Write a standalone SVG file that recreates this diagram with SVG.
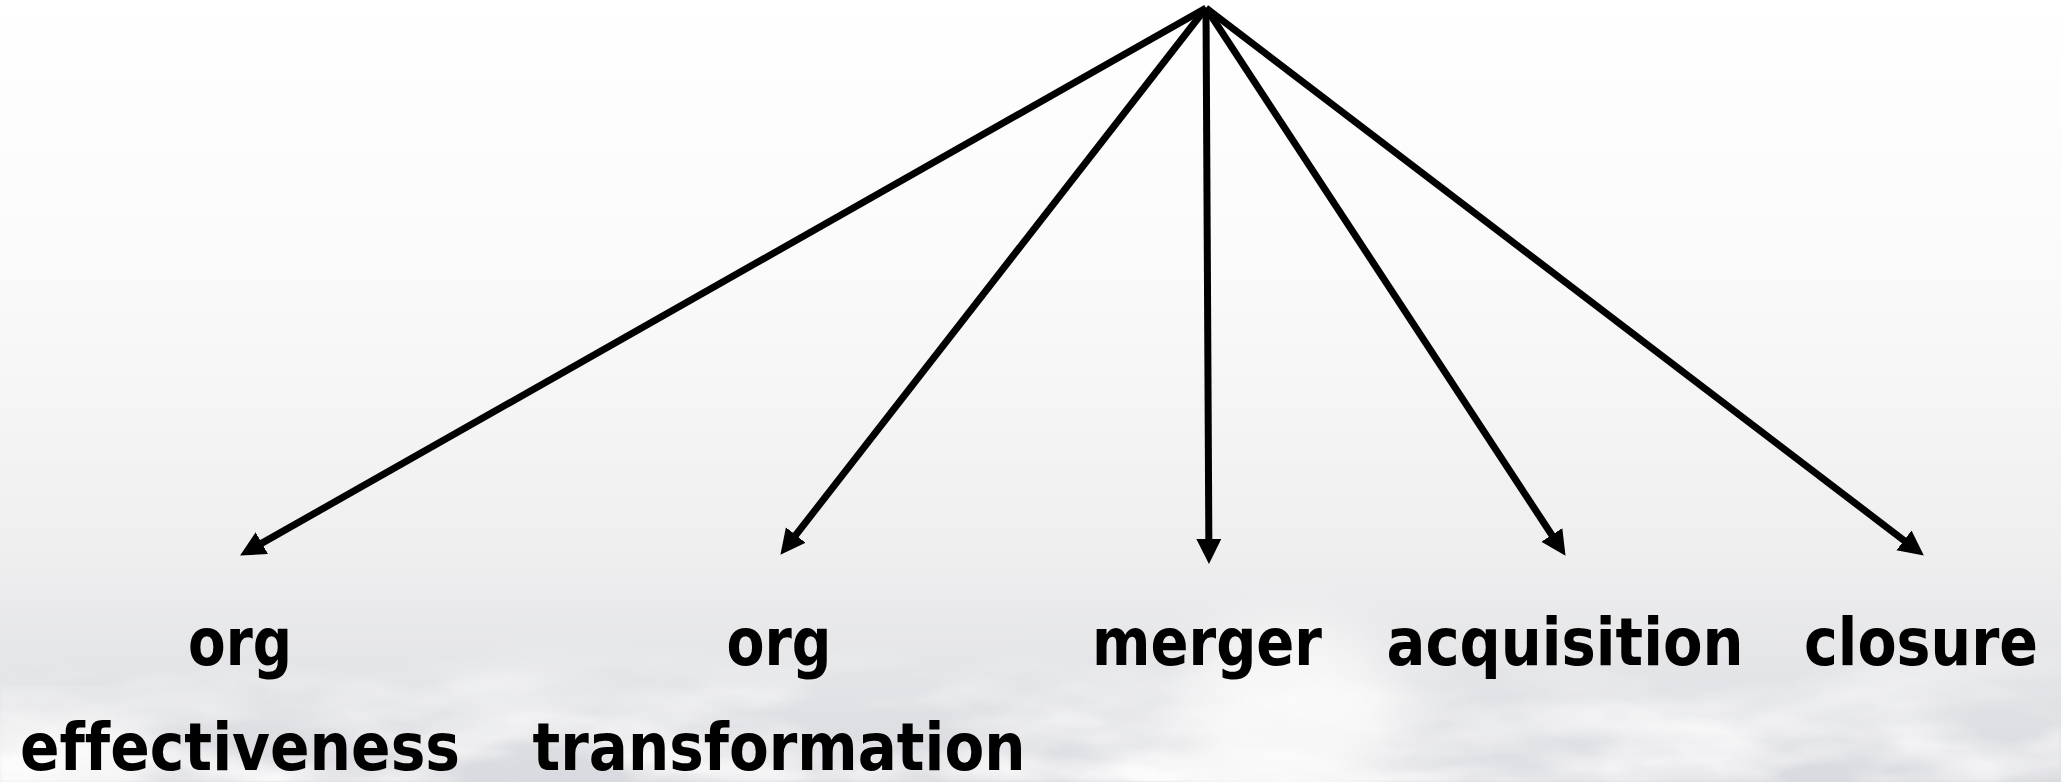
<svg xmlns="http://www.w3.org/2000/svg" width="2061" height="782" viewBox="0 0 2061 782">
  <defs>
    <linearGradient id="sky" x1="0" y1="0" x2="0" y2="1">
      <stop offset="0" stop-color="#ffffff"/>
      <stop offset="0.35" stop-color="#fafafa"/>
      <stop offset="0.7" stop-color="#efeff0"/>
      <stop offset="0.88" stop-color="#e2e3e6"/>
      <stop offset="1" stop-color="#d9dadf"/>
    </linearGradient>
    <linearGradient id="fadeIn" x1="0" y1="0" x2="0" y2="1">
      <stop offset="0" stop-color="#fff" stop-opacity="0"/>
      <stop offset="0.45" stop-color="#fff" stop-opacity="0.7"/>
      <stop offset="1" stop-color="#fff" stop-opacity="1"/>
    </linearGradient>
    <mask id="bandMask">
      <rect x="0" y="640" width="2061" height="142" fill="url(#fadeIn)"/>
    </mask>
    <filter id="cloudTex" x="0" y="0" width="100%" height="100%" color-interpolation-filters="sRGB">
      <feTurbulence type="fractalNoise" baseFrequency="0.005 0.016" numOctaves="4" seed="7"/>
      <feColorMatrix type="matrix" values="0 0 0 0 0.99  0 0 0 0 0.99  0 0 0 0 0.99  2.6 0 0 0 -0.95"/>
      <feGaussianBlur stdDeviation="1.5"/>
    </filter>
    <filter id="softer" x="-30%" y="-30%" width="160%" height="160%">
      <feGaussianBlur stdDeviation="26"/>
    </filter>
    <marker id="head" markerUnits="userSpaceOnUse" markerWidth="26" markerHeight="26" refX="12" refY="12.5" orient="auto">
      <path d="M0,0 L25,12.5 L0,25 Z" fill="#000"/>
    </marker>
    <style>
      .label { font-family: "DejaVu Sans", "Liberation Sans", sans-serif; font-weight: 700; font-size: 66px; fill: #000; text-anchor: middle; font-variant-ligatures: none; }
      .link { stroke: #000; stroke-width: 7; fill: none; marker-end: url(#head); }
    </style>
  </defs>

  <!-- sky backdrop -->
  <rect width="2061" height="782" fill="url(#sky)"/>

  <!-- cloud bank along the bottom -->
  <g id="clouds">
    <ellipse cx="1290" cy="720" rx="110" ry="100" fill="#f7f7f7" filter="url(#softer)"/>
    <ellipse cx="60" cy="750" rx="100" ry="40" fill="#f6f6f6" filter="url(#softer)"/>
    <rect x="0" y="640" width="2061" height="142" fill="#fff" filter="url(#cloudTex)" mask="url(#bandMask)"/>
  </g>

  <!-- connectors fanning out from the common origin -->
  <g id="connectors">
    <line class="link" x1="1206" y1="8" x2="251.4" y2="549.1"/>
    <line class="link" x1="1206" y1="8" x2="788.4" y2="544.5"/>
    <line class="link" x1="1206" y1="8" x2="1208.9" y2="551"/>
    <line class="link" x1="1206" y1="8" x2="1558.4" y2="545"/>
    <line class="link" x1="1206" y1="8" x2="1913.5" y2="547.7"/>
  </g>

  <g id="org-effectiveness">
    <text class="label" x="240" y="665" textLength="104" lengthAdjust="spacingAndGlyphs">org</text>
    <text class="label" x="240" y="770" textLength="440" lengthAdjust="spacingAndGlyphs">effectiveness</text>
  </g>
  <g id="org-transformation">
    <text class="label" x="779" y="665" textLength="105" lengthAdjust="spacingAndGlyphs">org</text>
    <text class="label" x="779" y="770" textLength="493" lengthAdjust="spacingAndGlyphs">transformation</text>
  </g>
  <g id="merger">
    <text class="label" x="1207" y="665" textLength="230" lengthAdjust="spacingAndGlyphs">merger</text>
  </g>
  <g id="acquisition">
    <text class="label" x="1565" y="665" textLength="357" lengthAdjust="spacingAndGlyphs">acquisition</text>
  </g>
  <g id="closure">
    <text class="label" x="1921" y="665" textLength="234" lengthAdjust="spacingAndGlyphs">closure</text>
  </g>
</svg>
